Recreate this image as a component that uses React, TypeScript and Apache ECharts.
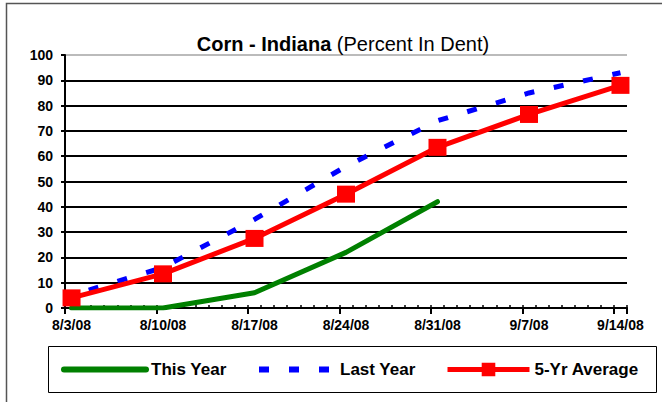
import React, { useEffect, useRef } from "react";
import * as echarts from "echarts";

const weekLabels = ["8/3/08", "8/10/08", "8/17/08", "8/24/08", "8/31/08", "9/7/08", "9/14/08"];
const thisYear = [0, 0, 6, 22, 42];
const lastYear = [5, 16, 35, 56, 74, 85, 93];
const fiveYrAvg = [4, 13.5, 27.5, 45, 63.5, 76.5, 88];
const seriesNames = ["This Year", "Last Year", "5-Yr Average"];
const firstDay = [2008, 7, 3];
const dayCount = 43;

const FONT = "'Liberation Sans', Arial, sans-serif";

function dayCategories(): string[] {
  const out: string[] = [];
  for (let i = 0; i < dayCount; i++) {
    const d = new Date(firstDay[0], firstDay[1], firstDay[2] + i);
    out.push(`${d.getMonth() + 1}/${d.getDate()}/${String(d.getFullYear()).slice(2)}`);
  }
  return out;
}

function pairs(vals: number[]) {
  return vals.map((v, i) => [weekLabels[i], v]);
}

export default function App() {
  const ref = useRef<HTMLDivElement>(null);
  useEffect(() => {
    if (!ref.current) return;
    const chart = echarts.init(ref.current, null, { renderer: "svg" });
    const cats = dayCategories();
    const legendText = { fontFamily: FONT, fontSize: 17, fontWeight: "bold", color: "#000" };
    const hiddenSymbol = { color: "transparent", borderWidth: 0, opacity: 0 };
    chart.setOption({
      animation: false,
      backgroundColor: "#fff",
      textStyle: { fontFamily: FONT },
      title: {
        left: 338,
        top: 29,
        textAlign: "center",
        text: "{b|Corn - Indiana} {n|(Percent In Dent)}",
        textStyle: {
          fontWeight: "normal",
          fontSize: 20,
          rich: {
            b: { fontFamily: FONT, fontSize: 20, fontWeight: "bold", color: "#000" },
            n: { fontFamily: FONT, fontSize: 20, fontWeight: "normal", color: "#000" },
          },
        },
      },
      grid: { left: 65, right: 35, top: 55, bottom: 94, containLabel: false },
      legend: [
        {
          data: [seriesNames[0]], left: 61, top: 361, padding: 0, itemWidth: 82, itemHeight: 17,
          textStyle: legendText, itemStyle: hiddenSymbol,
          lineStyle: { width: 6, cap: "round" },
        },
        {
          data: [seriesNames[1]], left: 256, top: 361, padding: 0, itemWidth: 76, itemHeight: 17,
          textStyle: legendText, itemStyle: hiddenSymbol,
          lineStyle: { width: 6, dashOffset: 0, type: [10, 20] },
        },
        {
          data: [seriesNames[2]], left: 445, top: 361, padding: 0, itemWidth: 82, itemHeight: 17,
          textStyle: legendText,
          lineStyle: { width: 5 },
        },
      ],
      xAxis: [
        {
          type: "category",
          data: cats,
          boundaryGap: true,
          axisLine: { show: true, lineStyle: { color: "#000", width: 2 } },
          axisTick: { show: true, interval: 6, inside: false, length: 6, lineStyle: { color: "#000", width: 2 } },
          axisLabel: {
            interval: 6,
            margin: 10,
            fontFamily: FONT,
            fontSize: 14,
            fontWeight: "bold",
            color: "#000",
          },
          splitLine: { show: false },
        },
        {
          type: "category",
          data: cats,
          boundaryGap: true,
          position: "bottom",
          axisLine: { show: false },
          axisTick: { show: true, interval: 0, inside: true, length: 3, lineStyle: { color: "#000", width: 1.5 } },
          axisLabel: { show: false },
          splitLine: { show: false },
        },
      ],
      yAxis: {
        type: "value",
        min: 0,
        max: 100,
        interval: 10,
        axisLine: { show: true, lineStyle: { color: "#000", width: 2 } },
        axisTick: { show: true, length: 4, lineStyle: { color: "#000", width: 2 } },
        axisLabel: { margin: 12, fontFamily: FONT, fontSize: 14, fontWeight: "bold", color: "#000" },
        splitLine: {
          show: true,
          lineStyle: {
            color: ["#000", "#000", "#000", "#000", "#000", "#000", "#000", "#000", "#000", "#000", "#bbb"],
            width: 2,
          },
        },
      },
      series: [
        {
          name: seriesNames[0],
          type: "line",
          xAxisIndex: 0,
          data: pairs(thisYear),
          symbol: "none",
          lineStyle: { color: "#008000", width: 5, cap: "round", join: "round" },
          itemStyle: { color: "#008000" },
        },
        {
          name: seriesNames[1],
          type: "line",
          xAxisIndex: 0,
          data: pairs(lastYear),
          symbol: "none",
          lineStyle: { color: "#0000ff", width: 5, type: [10, 20], dashOffset: 12 },
          itemStyle: { color: "#0000ff" },
        },
        {
          name: seriesNames[2],
          type: "line",
          xAxisIndex: 0,
          data: pairs(fiveYrAvg),
          symbol: "rect",
          symbolSize: [18, 17],
          showAllSymbol: true,
          lineStyle: { color: "#ff0000", width: 5 },
          itemStyle: { color: "#ff0000" },
        },
      ],
      graphic: [
        {
          type: "rect",
          shape: { x: 48.5, y: 346.5, width: 608, height: 46 },
          style: { fill: "none", stroke: "#000", lineWidth: 1 },
          z: -1,
          silent: true,
        },
        {
          type: "polyline",
          shape: { points: [[6.5, 402], [6.5, 3.5], [662, 3.5]] },
          style: { fill: "none", stroke: "#555", lineWidth: 1.5 },
          silent: true,
        },
      ],
    });
    return () => chart.dispose();
  }, []);
  return (
    <div
      ref={ref}
      style={{ position: "fixed", left: 0, top: 0, width: 662, height: 402, background: "#fff" }}
    />
  );
}
